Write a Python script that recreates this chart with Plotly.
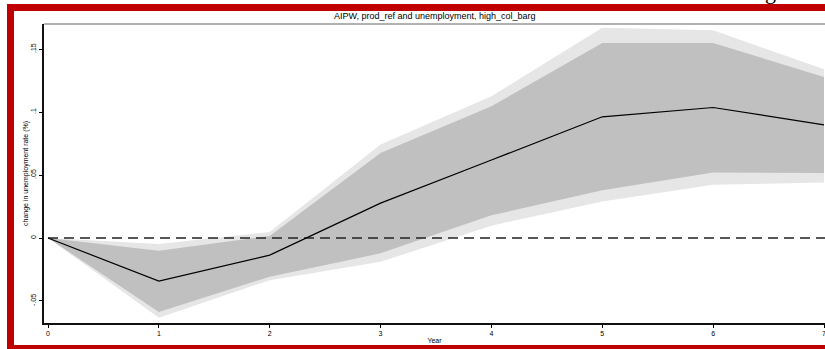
import plotly.graph_objects as go

years = [0, 1, 2, 3, 4, 5, 6, 7]
point = [0.0, -0.0343, -0.0136, 0.0277, 0.0620, 0.0963, 0.1037, 0.0899]
ci_inner_upper = [0.0, -0.0101, 0.0016, 0.0675, 0.1047, 0.1550, 0.1550, 0.1280]
ci_inner_lower = [0.0, -0.0588, -0.0308, -0.0122, 0.0180, 0.0380, 0.0521, 0.0516]
ci_outer_upper = [0.0, -0.0048, 0.0048, 0.0742, 0.1127, 0.1670, 0.1650, 0.1340]
ci_outer_lower = [0.0, -0.0633, -0.0335, -0.0189, 0.0098, 0.0290, 0.0423, 0.0441]
x_ticks = [0, 1, 2, 3, 4, 5, 6, 7]
y_ticks = [-0.05, 0, 0.05, 0.1, 0.15]
y_tick_labels = ["-.05", "0", ".05", ".1", ".15"]

title_text = "AIPW, prod_ref and unemployment, high_col_barg"
x_title = "Year"
y_title = "change in unemployment rate (%)"

LIGHT = "#E6E6E6"
DARK = "#C0C0C0"
FONT = "Liberation Sans, Arial, sans-serif"

fig = go.Figure()
fig.add_trace(go.Scatter(x=years, y=ci_outer_upper, mode="lines", line=dict(width=0),
                         hoverinfo="skip", showlegend=False))
fig.add_trace(go.Scatter(x=years, y=ci_outer_lower, mode="lines", line=dict(width=0),
                         fill="tonexty", fillcolor=LIGHT, hoverinfo="skip", showlegend=False))
fig.add_trace(go.Scatter(x=years, y=ci_inner_upper, mode="lines", line=dict(width=0),
                         hoverinfo="skip", showlegend=False))
fig.add_trace(go.Scatter(x=years, y=ci_inner_lower, mode="lines", line=dict(width=0),
                         fill="tonexty", fillcolor=DARK, hoverinfo="skip", showlegend=False))
fig.add_trace(go.Scatter(x=[years[0], years[-1] + 1], y=[0, 0], mode="lines",
                         line=dict(color="#222222", width=1.3, dash="10px,6px"),
                         hoverinfo="skip", showlegend=False))
fig.add_trace(go.Scatter(x=years, y=point, mode="lines",
                         line=dict(color="black", width=1.2), showlegend=False))

W, H = 825, 349
L, R, T, B = 44, 0, 24, 26
plot_w = W - L - R
plot_h = H - T - B
px_per_year = (824 - 48) / 7.0
x0 = -(48 - L) / px_per_year
x1 = 7 + (W - 824) / px_per_year
px_per_unit = 1258.5
zero_px = 238
y_top = (zero_px - T) / px_per_unit
y_bot = -(H - B - zero_px) / px_per_unit

def px_x(p):
    return (p - L) / plot_w

def px_y(p):
    return (H - B - p) / plot_h

tickfont = dict(size=7, family=FONT, color="black")

fig.update_layout(
    width=W, height=H,
    margin=dict(l=L, r=R, t=T, b=B, pad=0),
    paper_bgcolor="white", plot_bgcolor="white",
    font=dict(family=FONT, size=7, color="black"),
    xaxis=dict(range=[x0, x1], tickvals=x_ticks, ticks="outside", ticklen=3,
               tickwidth=1, tickcolor="black", showline=True, linecolor="#111111",
               linewidth=2, showgrid=False, zeroline=False,
               tickfont=tickfont, ticklabeloverflow="allow",
               title=dict(text=x_title, font=dict(size=7, family=FONT, color="black"), standoff=2)),
    yaxis=dict(range=[y_bot, y_top], tickvals=y_ticks, ticktext=y_tick_labels,
               ticks="outside", ticklen=3, tickwidth=1, tickcolor="black",
               showline=True, linecolor="#111111", linewidth=1.5, showgrid=False,
               zeroline=False, tickangle=-90, tickfont=tickfont,
               title=dict(text=y_title, font=dict(size=7, family=FONT, color="black"), standoff=1)),
    shapes=[
        dict(type="line", xref="paper", yref="paper", x0=0, x1=1, y0=1, y1=1,
             line=dict(color="#666666", width=1.2)),
        dict(type="rect", xref="paper", yref="paper", x0=px_x(7), x1=px_x(W + 5),
             y0=px_y(11), y1=px_y(4), fillcolor="#C00000", line=dict(width=0), layer="above"),
        dict(type="rect", xref="paper", yref="paper", x0=px_x(7), x1=px_x(14),
             y0=px_y(349), y1=px_y(4), fillcolor="#C00000", line=dict(width=0), layer="above"),
        dict(type="rect", xref="paper", yref="paper", x0=px_x(7), x1=px_x(W + 5),
             y0=px_y(352), y1=px_y(345), fillcolor="#C00000", line=dict(width=0), layer="above"),
    ],
    annotations=[
        dict(text=title_text, xref="paper", yref="paper", x=0.5, y=px_y(16),
             xanchor="center", yanchor="middle", showarrow=False,
             font=dict(size=9, family=FONT, color="black")),
        dict(text="g", xref="paper", yref="paper", x=px_x(770), y=px_y(-9),
             xanchor="center", yanchor="middle", showarrow=False,
             font=dict(size=22, family="Liberation Serif, serif", color="black")),
    ],
)

fig.write_html("out.html")
